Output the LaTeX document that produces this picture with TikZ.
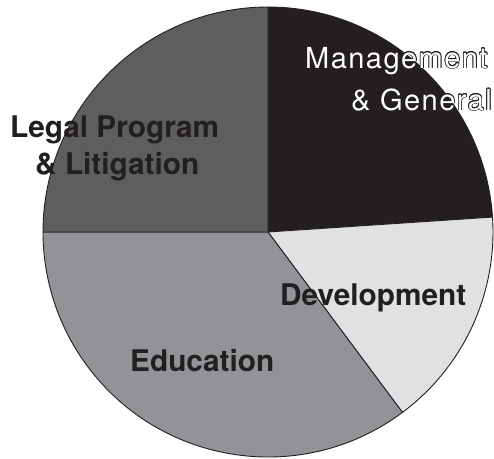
\documentclass[tikz,border=0pt]{standalone}
\usepackage{fontspec}
\setmainfont{TeX Gyre Heros}
\newfontfamily\mgfont{TeX Gyre Heros}[LetterSpace=5]
\usepackage{contour}
\contourlength{0.7pt}
\usetikzlibrary{calc}
\definecolor{inkc}{HTML}{231F20}
\definecolor{legalc}{HTML}{5E5E61}
\definecolor{educc}{HTML}{929396}
\definecolor{devc}{HTML}{E0E1E3}
\tikzset{
  slice/.style={draw=inkc, line width=0.9pt, line join=round},
  lbl/.style={font=\fontsize{29.8}{34}\selectfont\bfseries, text=inkc, inner sep=0pt},
  wlbl/.style={font=\fontsize{29}{33}\mgfont, inner sep=0pt},
}
\begin{document}
\begin{tikzpicture}[x=1pt,y=-1pt]
\useasboundingbox (0,0) rectangle (494,458);
\coordinate (c) at (268,232);
\def\R{225}
\draw[slice,fill=inkc] (c) -- (268,7) arc[start angle=-90, end angle=-3.8, radius=\R] -- cycle;
\draw[slice,fill=devc] (c) -- ($(c)+(-3.8:\R)$) arc[start angle=-3.8, end angle=53.3, radius=\R] -- cycle;
\draw[slice,fill=educc] (c) -- ($(c)+(53.3:\R)$) arc[start angle=53.3, end angle=180, radius=\R] -- cycle;
\draw[slice,fill=legalc] (c) -- ($(c)+(180:\R)$) arc[start angle=180, end angle=270, radius=\R] -- cycle;
\node[lbl, anchor=base west] (legal1) at (10,137) {Legal Program};
\node[lbl, anchor=base west] (legal2) at (35,174) {\& Litigation};
\node[lbl, anchor=base west] (dev) at (280,305) {Development};
\node[lbl, anchor=base west] (edu) at (130,371) {Education};
\node[wlbl, anchor=base west] (mg1) at (305,68) {\contour{inkc}{\textcolor{white}{Management}}};
\node[wlbl, anchor=base east] (mg2) at (492,110) {\contour{inkc}{\textcolor{white}{\& General}}};
\end{tikzpicture}
\end{document}
